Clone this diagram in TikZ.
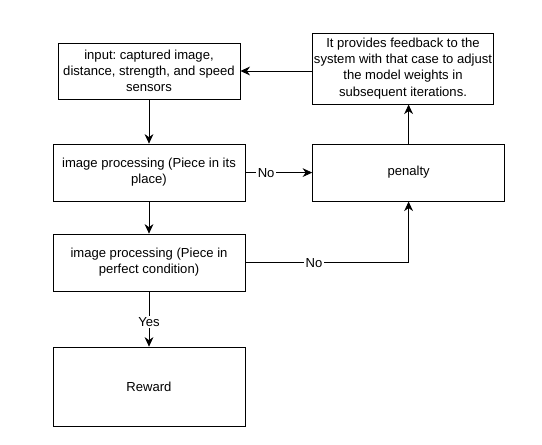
\documentclass[tikz,border=0pt]{standalone}
\usepackage{fontspec}
\setsansfont{Liberation Sans}
\frenchspacing
\usetikzlibrary{shapes, arrows.meta, positioning}
\tikzstyle{inbox} = [rectangle, minimum width=4.55cm, minimum height=1.4cm, text centered, draw=black, fill=white]
\tikzstyle{process} = [rectangle, minimum width=4.8cm, minimum height=1.425cm, text centered, draw=black, fill=white]
\tikzstyle{arrow} = [line width=0.6pt, -{Stealth[length=2.4mm, width=2.2mm]}]

\begin{document}
\begin{tikzpicture}[node distance=2cm, every node/.style={fill=white, font=\sffamily\fontsize{9.3}{11.4}\selectfont, align=center}]
        \tikzstyle{feedback} = [rectangle, minimum width=4.5cm, minimum height=1.775cm, inner xsep=1pt, text centered, draw=black, fill=white]
        \tikzstyle{rewardbox} = [rectangle, minimum width=4.8cm, minimum height=1.975cm, text centered, draw=black, fill=white]

        \useasboundingbox (-3.725,1.775) rectangle (9.825,-9.35);

        % Nodes
        \node (in) [inbox, line width=0.6pt] {input: captured image,\\distance, strength, and speed\\sensors};
        \node (place) [process, line width=0.6pt, below of=in, yshift=-0.54cm] {image processing (Piece in its\\place)};
        \node (cond) [process, line width=0.6pt, below of=place, yshift=-0.25cm] {image processing (Piece in\\perfect condition)};
        \node (reward) [rewardbox, line width=0.6pt, below of=cond, yshift=-1.1cm] {Reward};

        \node (penalty) [process, line width=0.6pt, right of=place, xshift=4.49cm] {penalty};
        \node (fb) [feedback, line width=0.6pt, above of=penalty, yshift=0.6cm, xshift=-0.14cm] {It provides feedback to the\\system with that case to adjust\\the model weights in\\subsequent iterations.};

        % Connections
        \draw [arrow] (in) -- (place);
        \draw [arrow] (place) -- (cond);
        \draw [arrow] (cond) -- node[pos=0.55, inner sep=1pt] {Yes} (reward);
        \draw [arrow] (place) -- node[pos=0.31, inner sep=1pt] {No} (penalty);
        \draw [arrow] (cond.east) -| node[pos=0.21, inner sep=1pt] {No} (penalty.south);
        \draw [arrow] (penalty.north) -- (penalty.north |- fb.south);
        \draw [arrow] (fb.west |- in.east) -- (in.east);
    \end{tikzpicture}
\end{document}
